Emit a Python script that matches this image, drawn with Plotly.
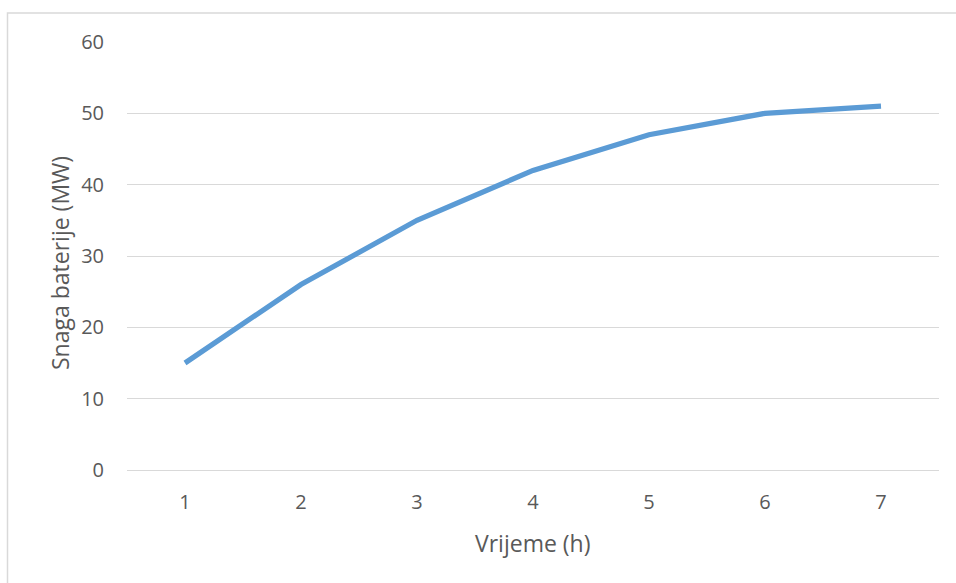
import plotly.graph_objects as go

categories = ["1", "2", "3", "4", "5", "6", "7"]
power_mw = [15, 26, 35, 42, 47, 50, 51]
y_ticks = [0, 10, 20, 30, 40, 50, 60]

W, H = 956, 583
L, R, T, B = 127, 17, 42, 113
pw, ph = W - L - R, H - T - B

def px_x(p):
    return (p - L) / pw

def px_y(p):
    return (H - B - p) / ph

font = "Open Sans, Carlito, Calibri, sans-serif"
txt = "#595959"

fig = go.Figure()
fig.add_trace(go.Scatter(
    x=categories, y=power_mw, mode="lines",
    line=dict(color="#5b9bd5", width=5.2),
    showlegend=False, hoverinfo="skip",
))

fig.update_layout(
    width=W, height=H,
    margin=dict(l=L, r=R, t=T, b=B),
    paper_bgcolor="white", plot_bgcolor="white",
    font=dict(family=font, size=20, color=txt),
    xaxis=dict(type="category", range=[-0.5, 6.5], showgrid=False,
               showline=False, zeroline=False, ticks="",
               ticklabelstandoff=18, tickfont=dict(size=20, color=txt)),
    yaxis=dict(range=[0, 60], tickvals=y_ticks, showgrid=True,
               gridcolor="#d9d9d9", gridwidth=1.3, zeroline=True,
               zerolinecolor="#d9d9d9", zerolinewidth=1.3, showline=False,
               ticks="", ticklabelstandoff=22, tickfont=dict(size=20, color=txt)),
    shapes=[dict(type="rect", xref="paper", yref="paper",
                 x0=px_x(7.5), x1=px_x(W + 10), y0=px_y(H + 10), y1=px_y(13),
                 line=dict(color="#d9d9d9", width=1.5), fillcolor="rgba(0,0,0,0)",
                 layer="below")],
    annotations=[
        dict(text="Vrijeme (h)", xref="paper", yref="paper",
             x=px_x(533), y=px_y(543), showarrow=False,
             font=dict(size=23, color=txt), xanchor="center", yanchor="middle"),
        dict(text="Snaga baterije (MW)", xref="paper", yref="paper",
             x=px_x(60), y=px_y(263), showarrow=False, textangle=-90,
             font=dict(size=23, color=txt), xanchor="center", yanchor="middle"),
    ],
)

fig.write_html("out.html", config={"displayModeBar": False},
               post_script="document.body.style.margin='0';")
